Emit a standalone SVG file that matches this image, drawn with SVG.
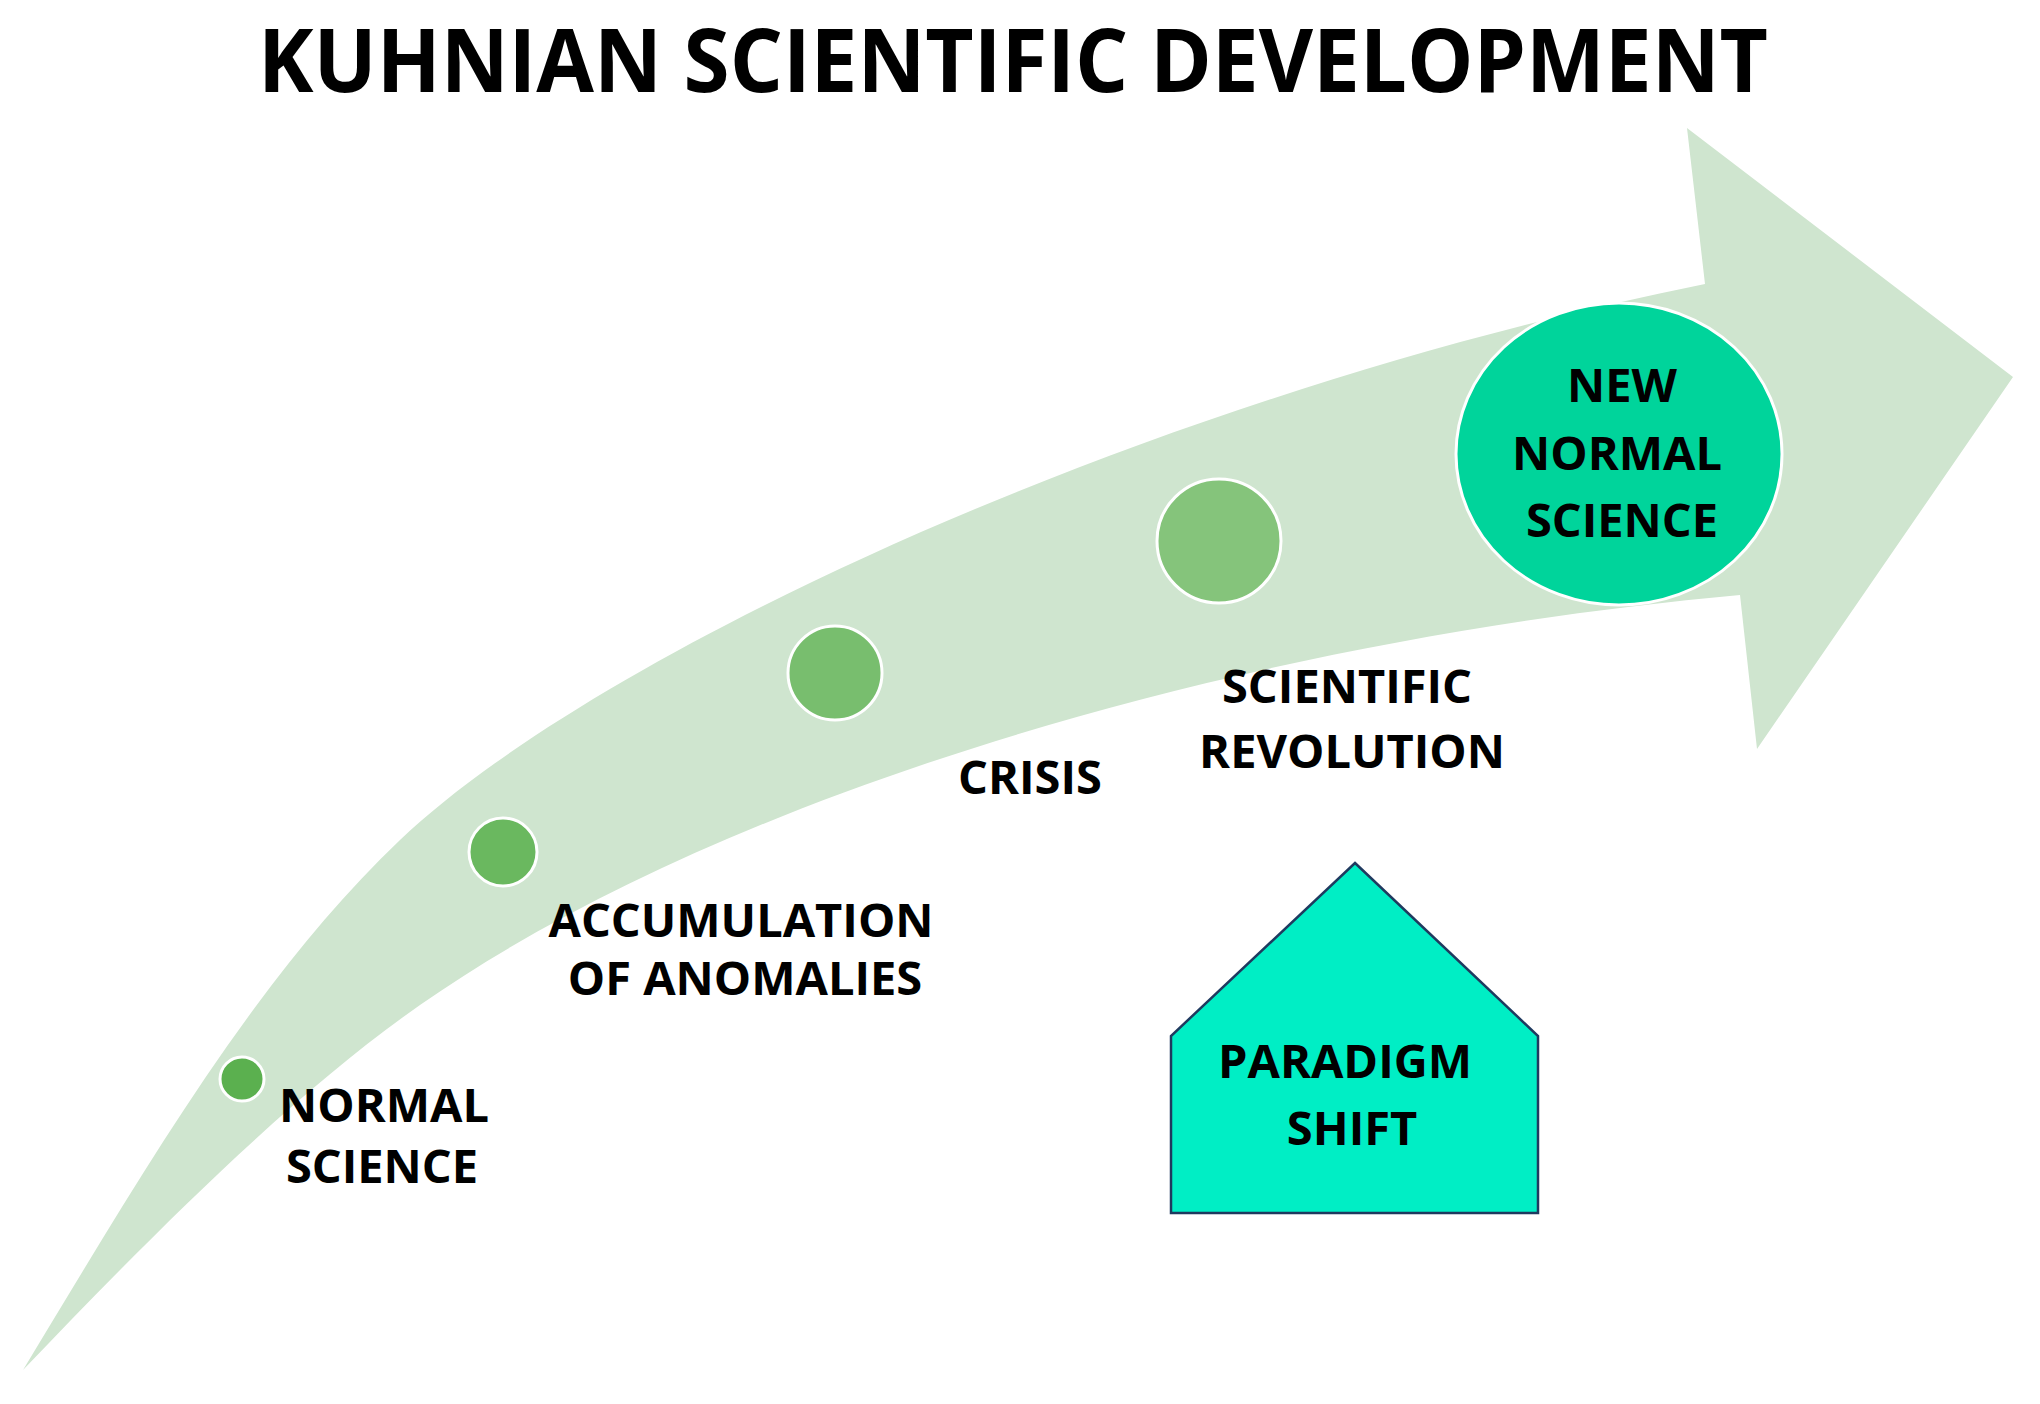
<svg xmlns="http://www.w3.org/2000/svg" width="2040" height="1404" viewBox="0 0 2040 1404">
  <style>
    .lbl { font-family: "Open Sans", "Liberation Sans", sans-serif; font-weight: 700; font-size: 47px; fill: #000; text-anchor: middle; }
    .title { font-family: "Open Sans", "Liberation Sans", sans-serif; font-weight: 700; font-size: 88px; fill: #000; text-anchor: middle; }
    .dot { stroke: #ffffff; stroke-width: 3; }
  </style>
  <rect width="2040" height="1404" fill="#ffffff"/>

  <g id="title">
    <text class="title" x="1013" y="92" textLength="1510" lengthAdjust="spacingAndGlyphs">KUHNIAN SCIENTIFIC DEVELOPMENT</text>
  </g>

  <g id="connectors">
    <path id="progress-arrow" fill="#CFE5CF" d="
      M23,1370
      C143,1172 255,978 400,840
      C600,650 1155,394 1705,284
      L1687,128 L2013,377 L1757,749 L1740,595
      C1240,640 720,795 420,1005
      C290,1096 153,1234 23,1370 Z"/>
  </g>

  <g id="normal-science">
    <circle class="dot" cx="242" cy="1079" r="22" fill="#5BB04F"/>
    <text class="lbl" x="384" y="1122">NORMAL</text>
    <text class="lbl" x="382" y="1183">SCIENCE</text>
  </g>

  <g id="accumulation-of-anomalies">
    <circle class="dot" cx="503" cy="852" r="34" fill="#6AB85F"/>
    <text class="lbl" x="741" y="937">ACCUMULATION</text>
    <text class="lbl" x="745" y="995">OF ANOMALIES</text>
  </g>

  <g id="crisis">
    <circle class="dot" cx="835" cy="673" r="47" fill="#78BE6E"/>
    <text class="lbl" x="1030" y="794">CRISIS</text>
  </g>

  <g id="scientific-revolution">
    <circle class="dot" cx="1219" cy="541" r="62" fill="#85C47B"/>
    <text class="lbl" x="1347" y="703">SCIENTIFIC</text>
    <text class="lbl" x="1352" y="768">REVOLUTION</text>
  </g>

  <g id="new-normal-science">
    <ellipse cx="1619" cy="454" rx="163" ry="151" fill="#00D49B" stroke="#ffffff" stroke-width="3"/>
    <text class="lbl" x="1622" y="402">NEW</text>
    <text class="lbl" x="1617" y="470">NORMAL</text>
    <text class="lbl" x="1622" y="537">SCIENCE</text>
  </g>

  <g id="paradigm-shift">
    <polygon points="1355,863 1538,1036 1538,1213 1171,1213 1171,1036" fill="#00EEC5" stroke="#1F3A5F" stroke-width="2.5" stroke-linejoin="miter"/>
    <text class="lbl" x="1345" y="1078">PARADIGM</text>
    <text class="lbl" x="1352" y="1145">SHIFT</text>
  </g>
</svg>
